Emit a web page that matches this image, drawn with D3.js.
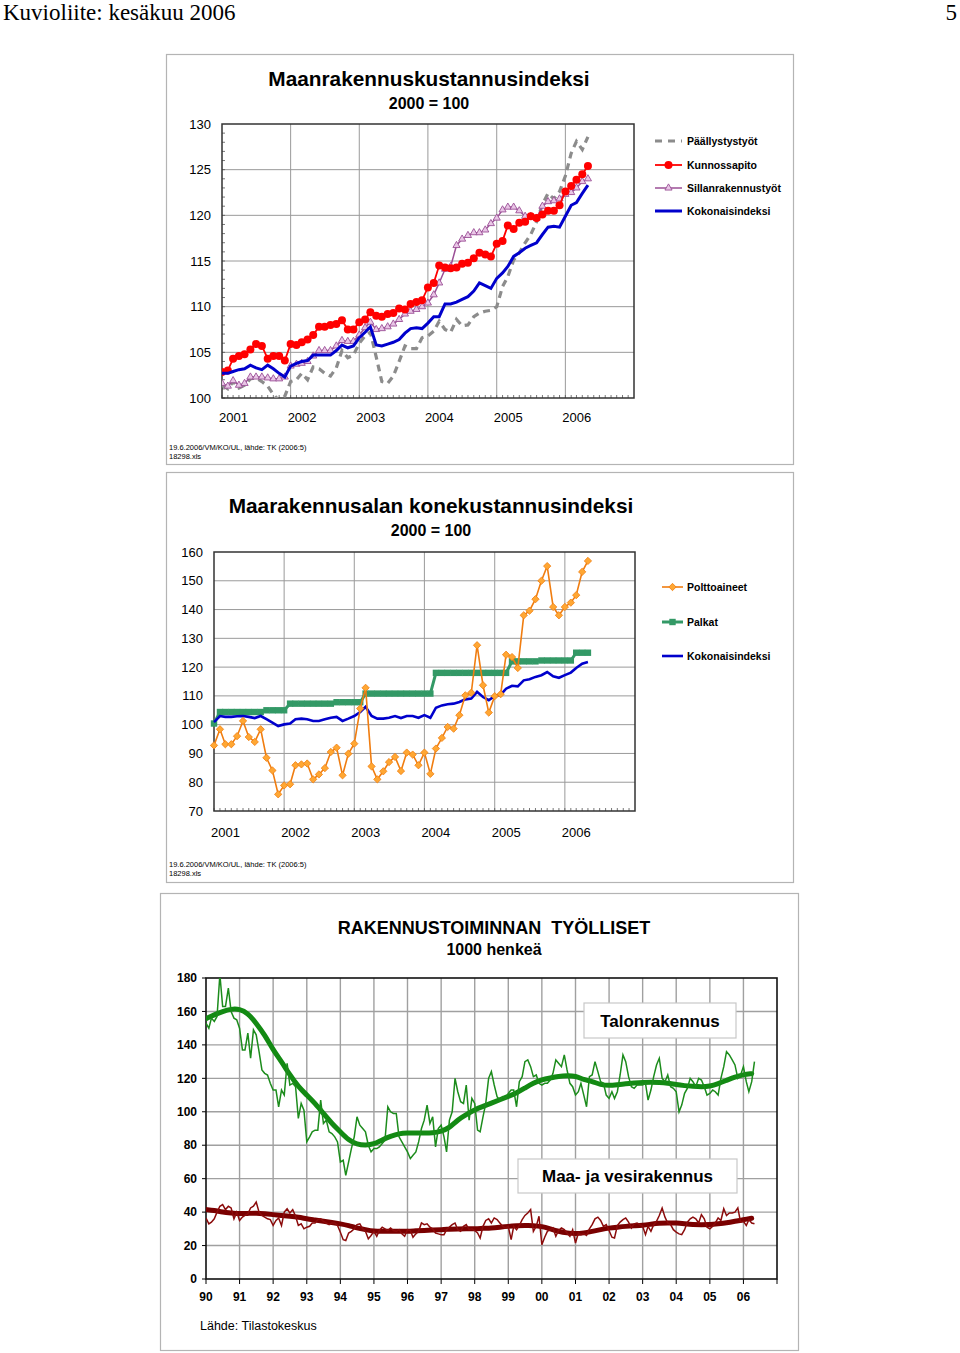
<!DOCTYPE html>
<html>
<head>
<meta charset="utf-8">
<script src="https://cdn.jsdelivr.net/npm/d3@7"></script>
<style>
body { margin: 0; background: #fff; }
svg text { font-family: Arial, "Liberation Sans", Helvetica, sans-serif; fill: #000; }
</style>
</head>
<body>
<div id="page"></div>
<script>
// page size
const width = 960; const height = 1353;

// ---- data: Maanrakennuskustannusindeksi, monthly 2001:1 - 2006:5 ----
const top_series = ['Päällystystyöt', 'Kunnossapito', 'Sillanrakennustyöt', 'Kokonaisindeksi'];
const top_paallystys = [101.4,101.0,101.8,101.1,101.4,102.1,102.2,101.8,101.3,100.4,99.7,100.2,
  101.8,102.0,102.7,102.0,103.4,103.2,102.7,102.4,103.3,105.2,104.4,104.7,
  106.0,106.8,107.2,104.5,101.8,101.6,102.4,104.0,105.7,105.4,105.4,106.6,
  106.8,107.3,108.4,107.5,107.2,108.6,107.9,108.0,108.9,109.3,109.5,109.6,
  110.0,112.2,113.3,115.1,115.9,117.0,117.9,119.3,121.2,122.4,121.8,122.6,
  124.3,126.8,128.1,127.2,128.6];
const top_kunnossapito = [102.85,103.0,104.3,104.6,104.8,105.3,105.9,105.7,104.3,104.6,104.6,104.1,
  105.9,105.8,106.1,106.4,106.9,107.8,107.8,108.0,108.1,108.5,107.5,107.5,
  108.3,108.6,109.4,109.0,108.9,109.2,109.3,109.8,109.7,110.3,110.5,110.7,
  112.1,112.6,114.5,114.3,114.2,114.3,114.7,114.8,115.3,115.9,115.7,115.5,
  116.9,117.2,118.9,118.5,119.2,119.3,119.9,119.7,120.1,120.5,120.5,121.1,
  122.6,123.2,123.9,124.5,125.4];
const top_silta = [101.6,101.3,101.9,101.4,101.6,102.3,102.3,102.3,102.2,102.1,102.1,102.3,
  103.5,103.7,103.8,104.0,104.6,105.2,105.2,105.2,105.7,106.3,106.2,106.2,
  106.9,107.7,108.3,107.5,107.6,107.8,108.1,108.6,109.2,109.5,109.7,110.0,
  110.4,111.3,112.6,114.1,114.4,116.7,117.4,117.8,118.1,118.1,118.4,119.1,
  119.7,120.6,120.9,120.9,120.5,119.9,119.9,119.7,121.0,121.5,121.6,121.8,
  122.3,122.5,123.0,123.7,124.0];
const top_koko = [102.7,102.7,102.9,103.1,103.2,103.6,103.3,103.1,103.6,103.2,102.7,102.3,
  103.5,103.8,104.0,104.1,104.7,104.7,104.7,104.7,105.2,105.8,105.5,105.7,
  106.6,107.2,107.8,105.8,105.7,105.9,106.1,106.4,107.1,107.6,107.7,107.6,
  108.2,108.9,108.9,110.3,110.3,110.5,110.8,111.1,111.7,112.6,112.3,112.0,
  113.1,113.7,114.4,115.5,115.9,116.4,116.7,117.0,117.9,118.7,118.8,118.7,
  119.9,121.1,121.4,122.4,123.3];
const top_yticks = [100, 105, 110, 115, 120, 125, 130];
const years_0106 = [2001, 2002, 2003, 2004, 2005, 2006];

// ---- data: Maarakennusalan konekustannusindeksi ----
const mid_series = ['Polttoaineet', 'Palkat', 'Kokonaisindeksi'];
const mid_poltto = [92.8,98.4,93.2,93.2,96.0,101.3,95.7,94.0,98.4,88.5,84.1,75.8,
  78.9,79.3,85.9,86.2,86.5,81.0,82.7,84.9,90.5,92.0,82.4,89.9,
  93.4,105.6,112.8,85.5,81.0,83.8,87.0,88.8,83.9,90.3,89.6,85.9,
  90.3,82.9,91.7,95.4,99.2,98.6,103.3,110.2,111.1,127.6,113.7,104.2,
  109.9,110.6,124.3,123.5,119.7,138.0,139.6,143.6,150.0,155.1,140.9,138.0,
  140.9,142.4,145.0,153.1,156.9];
const mid_palkat = [100.4,104.4,104.4,104.4,104.4,104.4,104.4,104.4,104.4,105.0,105.0,105.0,
  105.0,107.3,107.3,107.3,107.3,107.3,107.3,107.3,107.3,107.8,107.8,107.8,
  107.8,107.8,110.8,110.8,110.8,110.8,110.8,110.8,110.8,110.8,110.8,110.8,
  110.8,110.8,118.0,118.0,118.0,118.0,118.0,118.0,118.0,118.0,118.0,118.0,
  118.0,118.0,118.0,122.0,122.0,122.0,122.0,122.0,122.3,122.3,122.3,122.3,
  122.3,122.3,125.0,125.0,125.0];
const mid_koko = [100.9,103.0,102.7,102.7,102.9,103.0,102.7,102.3,103.0,101.9,100.7,99.5,
  100.1,100.4,101.9,102.1,101.9,101.3,101.3,101.9,102.4,102.7,101.3,102.1,
  103.0,104.4,106.2,103.0,102.1,102.1,102.4,103.0,102.3,103.0,103.0,102.4,
  103.3,102.4,105.9,106.7,107.1,107.3,107.9,108.8,109.1,111.4,109.6,108.5,
  110.0,110.4,112.5,113.5,113.3,115.4,115.8,116.6,117.2,118.3,116.8,116.3,
  117.2,118.1,119.7,121.2,121.8];
const mid_yticks = [70, 80, 90, 100, 110, 120, 130, 140, 150, 160];

// ---- data: Rakennustoiminnan työlliset, 1000 henkeä, monthly 1990:1 - 2006:5 ----
const talo_raw = [153,150,156,154,157,182,163,163,174,160,156,155,
  150,137,137,147,132,149,146,136,125,123,122,117,
  113,113,103,113,110,129,116,117,115,96,105,101,
  82,85,88,89,89,107,93,95,88,87,85,82,
  70,71,62,70,78,85,97,92,90,88,80,76,
  78,78,79,81,83,103,100,99,99,85,82,79,
  76,72,74,76,82,90,95,104,93,97,79,90,
  92,85,76,95,100,120,112,106,105,116,95,108,
  105,89,88,97,105,120,124,116,109,107,109,108,
  111,113,113,103,118,121,130,131,127,121,122,117,
  116,117,117,119,123,131,129,127,134,125,117,115,
  110,112,117,110,103,121,122,130,124,118,117,110,
  108,112,108,112,122,134,130,121,115,114,116,116,
  116,117,107,113,121,128,132,120,118,122,115,114,
  112,100,104,111,114,120,118,115,120,119,115,110,
  111,113,112,110,120,127,136,134,131,128,120,122,
  127,118,112,118,130];
const maa_raw = [36.5,33,34,36,40,43.5,44.5,41.5,43.5,42.5,36,40,
  35,37,38,39,42.5,43.5,46,40,38,37,36,35.5,
  32,35,36.5,32,40,42,39.5,41.5,37.5,32,33,30,
  31,31.5,33.5,33.5,35.5,36,34.5,33.5,32.5,33.5,33.5,32,
  28,23.5,23,27.5,28.5,30,32.5,33,30,28.5,24,26,
  28.5,25.5,29,31,30,29,30.5,29,28.5,29.5,27,25.5,
  29.5,29,25,27,28.5,33.5,32.5,33,31,30,27.5,27,
  26.5,26.5,29.5,31,32.5,33.5,29.5,28.5,31.5,32.5,29.5,30,
  29,27.5,24.5,31.5,35,36,33.5,36.5,35.5,33.5,31.5,30.5,
  31.5,23.5,31.5,29.5,32,35.5,38,39.5,41.5,28.5,31.5,37.5,
  20.5,25,28.5,29.5,30.5,25.5,29,30.5,29.5,27.5,25.5,29.5,
  21.5,27.5,26.5,27,26,30,32.5,36,37,35,31.5,32.5,
  29,25,24.5,32,34,35.5,36.5,34,30.5,33,33.5,32.5,
  31.5,26.5,31.5,28.5,32.5,34.5,38,42.5,37,33.5,32.5,29.5,
  28,27,26.5,29.5,34,36,37,36,33.5,38.5,36,31,
  30,31.5,33.5,36.5,35,42,38,39.5,39.5,40,42.5,34,
  34.5,32,35.5,33.5,33];
// trends, every 3 months (1990:1 ... 2006:4)
const talo_trend = [155.7,158,160,161.5,161.5,159,153,146,137,130,122,115,
  110,105,99,93,88,83,80.5,80,80.5,83.3,85.3,87,
  87.3,87.3,87.3,87.3,88.3,90.3,95.3,98.3,101.3,103.2,105.2,107.2,
  109.2,111.2,114.2,117.2,119.2,120.2,121.2,121.6,121.4,119.2,118.2,116.2,
  115.6,116.2,116.8,117.2,117.6,117.6,117.6,117.2,116.2,115.6,115.2,114.8,
  115.2,116.8,118.8,120.8,122.2,122.8];
const maa_trend = [41.5,41,40,39.5,39,39.2,39.5,39,38.5,38,37.5,37,
  36,35.3,34.5,33.8,33,32,30.5,29.5,28.5,28.5,28.5,28.5,
  28.5,28.8,29,29.3,29.5,29.8,30,30,30,30.3,30.5,31,
  31.5,31.8,32,32,31.5,30,28.5,27.5,27,27.5,28.5,29.5,
  30.5,31,31.5,31.8,32,32.8,33.5,33.5,33.5,33,32.5,32.5,
  32.5,33,33.5,34.5,35.5,36.3];
const bot_yticks = [0, 20, 40, 60, 80, 100, 120, 140, 160, 180];
const years_9006 = d3.range(1990, 2007);

const monthsFrom = (start, n, step) => d3.range(n).map(i => d3.timeMonth.offset(start, i * (step || 1)));
const pairs = (dates, vals) => vals.map((v, i) => ({date: dates[i], value: v}));

let svg = d3.select('#page').append('svg')
    .attr('width', width)
    .attr('height', height);

// page header
svg.append('text').attr('x', 3).attr('y', 20)
    .style('font-family', '"Liberation Serif", "Times New Roman", serif')
    .attr('font-size', 23).text('Kuvioliite: kesäkuu 2006');
svg.append('text').attr('x', 957).attr('y', 20).attr('text-anchor', 'end')
    .style('font-family', '"Liberation Serif", "Times New Roman", serif')
    .attr('font-size', 23).text('5');

function panelBox(x0, y0, x1, y1) {
    svg.append('rect')
        .attr('x', x0 + 0.5).attr('y', y0 + 0.5)
        .attr('width', x1 - x0).attr('height', y1 - y0)
        .attr('fill', 'none').attr('stroke', '#b4b4b4').attr('stroke-width', 1.2);
}
panelBox(166, 54, 793, 464);
panelBox(166, 472, 793, 882);
panelBox(160, 893, 798, 1350);

function footnote(y) {
    svg.append('text').attr('x', 169).attr('y', y).attr('font-size', 7.5)
        .text('19.6.2006/VM/KO/UL, lähde: TK (2006:5)');
    svg.append('text').attr('x', 169).attr('y', y + 9).attr('font-size', 7.5)
        .text('18298.xls');
}

function clip(id, x0, y0, x1, y1) {
    svg.append('clipPath').attr('id', id).append('rect')
        .attr('x', x0).attr('y', y0).attr('width', x1 - x0).attr('height', y1 - y0);
}

// ================= chart 1 =================
{
    const L = 222, R = 634, T = 124, B = 398;
    const x = d3.scaleTime().domain([new Date(2001, 0, 1), new Date(2007, 0, 1)]).range([L, R]);
    const y = d3.scaleLinear().domain([100, 130]).range([B, T]);
    const dates = monthsFrom(new Date(2001, 0, 1), 65);
    const g = svg.append('g');

    g.append('text').attr('x', 429).attr('y', 86).attr('text-anchor', 'middle')
        .attr('font-size', 20.8).attr('font-weight', 'bold').text('Maanrakennuskustannusindeksi');
    g.append('text').attr('x', 429).attr('y', 109).attr('text-anchor', 'middle')
        .attr('font-size', 16).attr('font-weight', 'bold').text('2000 = 100');

    // grid
    g.selectAll('.hg').data(top_yticks.slice(1, -1)).join('line')
        .attr('x1', L).attr('x2', R).attr('y1', d => y(d)).attr('y2', d => y(d))
        .attr('stroke', '#9a9a9a').attr('stroke-width', 1);
    g.selectAll('.vg').data(years_0106.slice(1)).join('line')
        .attr('x1', d => x(new Date(d, 0, 1))).attr('x2', d => x(new Date(d, 0, 1)))
        .attr('y1', T).attr('y2', B)
        .attr('stroke', '#9a9a9a').attr('stroke-width', 1);
    // minor ticks
    g.selectAll('.my').data(d3.range(100, 130)).join('line')
        .attr('x1', L).attr('x2', L + 3).attr('y1', d => y(d)).attr('y2', d => y(d))
        .attr('stroke', '#555').attr('stroke-width', 0.8);
    g.selectAll('.mx').data(d3.timeMonth.range(new Date(2001, 0, 1), new Date(2007, 0, 1))).join('line')
        .attr('x1', d => x(d)).attr('x2', d => x(d)).attr('y1', B).attr('y2', B - 3)
        .attr('stroke', '#555').attr('stroke-width', 0.8);
    g.append('rect').attr('x', L).attr('y', T).attr('width', R - L).attr('height', B - T)
        .attr('fill', 'none').attr('stroke', '#333').attr('stroke-width', 1.5);

    g.selectAll('.yl').data(top_yticks).join('text')
        .attr('x', 211).attr('y', d => y(d)).attr('dy', '0.35em').attr('text-anchor', 'end')
        .attr('font-size', 13).text(d => d);
    g.selectAll('.xl').data(years_0106).join('text')
        .attr('x', d => x(new Date(d, 0, 1)) - 3).attr('y', 417).attr('dy', '0.35em')
        .attr('font-size', 13).text(d => d);

    clip('clip1', L, T, R, B);
    const line = d3.line().x(d => x(d.date)).y(d => y(d.value));
    const pg = g.append('g').attr('clip-path', 'url(#clip1)');

    pg.append('path').datum(pairs(dates, top_paallystys))
        .attr('fill', 'none').attr('stroke', '#8c8c8c').attr('stroke-width', 3.2)
        .attr('stroke-dasharray', '7,5').attr('d', line);
    pg.append('path').datum(pairs(dates, top_silta))
        .attr('fill', 'none').attr('stroke', '#9b4f96').attr('stroke-width', 1.5).attr('d', line);
    pg.selectAll('.tri').data(pairs(dates, top_silta)).join('path')
        .attr('transform', d => `translate(${x(d.date)},${y(d.value)})`)
        .attr('d', d3.symbol(d3.symbolTriangle, 22))
        .attr('fill', '#e9c6e6').attr('stroke', '#9b4f96').attr('stroke-width', 0.9);
    pg.append('path').datum(pairs(dates, top_kunnossapito))
        .attr('fill', 'none').attr('stroke', '#ff0000').attr('stroke-width', 1.8).attr('d', line);
    pg.selectAll('.dot').data(pairs(dates, top_kunnossapito)).join('circle')
        .attr('cx', d => x(d.date)).attr('cy', d => y(d.value)).attr('r', 4)
        .attr('fill', '#ff0000');
    pg.append('path').datum(pairs(dates, top_koko))
        .attr('fill', 'none').attr('stroke', '#0000cc').attr('stroke-width', 3).attr('d', line);

    // legend
    const ly = [141, 165, 188, 211];
    const lg = g.append('g');
    lg.append('line').attr('x1', 655).attr('x2', 682).attr('y1', ly[0]).attr('y2', ly[0])
        .attr('stroke', '#8c8c8c').attr('stroke-width', 3).attr('stroke-dasharray', '7,6');
    lg.append('line').attr('x1', 655).attr('x2', 682).attr('y1', ly[1]).attr('y2', ly[1])
        .attr('stroke', '#ff0000').attr('stroke-width', 1.8);
    lg.append('circle').attr('cx', 668.5).attr('cy', ly[1]).attr('r', 4).attr('fill', '#ff0000');
    lg.append('line').attr('x1', 655).attr('x2', 682).attr('y1', ly[2]).attr('y2', ly[2])
        .attr('stroke', '#9b4f96').attr('stroke-width', 1.5);
    lg.append('path').attr('transform', `translate(668.5,${ly[2]})`)
        .attr('d', d3.symbol(d3.symbolTriangle, 22))
        .attr('fill', '#e9c6e6').attr('stroke', '#9b4f96').attr('stroke-width', 0.9);
    lg.append('line').attr('x1', 655).attr('x2', 682).attr('y1', ly[3]).attr('y2', ly[3])
        .attr('stroke', '#0000cc').attr('stroke-width', 3);
    lg.selectAll('text').data(top_series).join('text')
        .attr('x', 687).attr('y', (d, i) => ly[i]).attr('dy', '0.35em')
        .attr('font-size', 10.5).attr('font-weight', 'bold').text(d => d);

    footnote(450);
}

// ================= chart 2 =================
{
    const L = 214, R = 635, T = 552, B = 811;
    const x = d3.scaleTime().domain([new Date(2001, 0, 1), new Date(2007, 0, 1)]).range([L, R]);
    const y = d3.scaleLinear().domain([70, 160]).range([B, T]);
    const dates = monthsFrom(new Date(2001, 0, 1), 65);
    const g = svg.append('g');

    g.append('text').attr('x', 431).attr('y', 513).attr('text-anchor', 'middle')
        .attr('font-size', 20.8).attr('font-weight', 'bold').text('Maarakennusalan konekustannusindeksi');
    g.append('text').attr('x', 431).attr('y', 536).attr('text-anchor', 'middle')
        .attr('font-size', 16).attr('font-weight', 'bold').text('2000 = 100');

    g.selectAll('.hg').data(mid_yticks.slice(1, -1)).join('line')
        .attr('x1', L).attr('x2', R).attr('y1', d => y(d)).attr('y2', d => y(d))
        .attr('stroke', '#9a9a9a').attr('stroke-width', 1);
    g.selectAll('.vg').data(years_0106.slice(1)).join('line')
        .attr('x1', d => x(new Date(d, 0, 1))).attr('x2', d => x(new Date(d, 0, 1)))
        .attr('y1', T).attr('y2', B)
        .attr('stroke', '#9a9a9a').attr('stroke-width', 1);
    g.selectAll('.mx').data(d3.timeMonth.range(new Date(2001, 0, 1), new Date(2007, 0, 1))).join('line')
        .attr('x1', d => x(d)).attr('x2', d => x(d)).attr('y1', B).attr('y2', B - 3)
        .attr('stroke', '#555').attr('stroke-width', 0.8);
    g.append('rect').attr('x', L).attr('y', T).attr('width', R - L).attr('height', B - T)
        .attr('fill', 'none').attr('stroke', '#333').attr('stroke-width', 1.5);

    g.selectAll('.yl').data(mid_yticks).join('text')
        .attr('x', 203).attr('y', d => y(d)).attr('dy', '0.35em').attr('text-anchor', 'end')
        .attr('font-size', 13).text(d => d);
    g.selectAll('.xl').data(years_0106).join('text')
        .attr('x', d => x(new Date(d, 0, 1)) - 3).attr('y', 832).attr('dy', '0.35em')
        .attr('font-size', 13).text(d => d);

    const line = d3.line().x(d => x(d.date)).y(d => y(d.value));

    g.append('path').datum(pairs(dates, mid_palkat))
        .attr('fill', 'none').attr('stroke', '#339966').attr('stroke-width', 3).attr('d', line);
    g.selectAll('.sq').data(pairs(dates, mid_palkat)).join('rect')
        .attr('x', d => x(d.date) - 3.2).attr('y', d => y(d.value) - 3.2)
        .attr('width', 6.4).attr('height', 6.4).attr('fill', '#339966');
    g.append('path').datum(pairs(dates, mid_koko))
        .attr('fill', 'none').attr('stroke', '#0000cc').attr('stroke-width', 2.6).attr('d', line);
    g.append('path').datum(pairs(dates, mid_poltto))
        .attr('fill', 'none').attr('stroke', '#f07d10').attr('stroke-width', 1.6).attr('d', line);
    g.selectAll('.dia').data(pairs(dates, mid_poltto)).join('path')
        .attr('transform', d => `translate(${x(d.date)},${y(d.value)})`)
        .attr('d', d3.symbol(d3.symbolDiamond2, 34))
        .attr('fill', '#ffa733').attr('stroke', '#f07d10').attr('stroke-width', 0.8);

    const ly = [587, 622, 656];
    const lg = g.append('g');
    lg.append('line').attr('x1', 662).attr('x2', 683).attr('y1', ly[0]).attr('y2', ly[0])
        .attr('stroke', '#f07d10').attr('stroke-width', 1.6);
    lg.append('path').attr('transform', `translate(672.5,${ly[0]})`)
        .attr('d', d3.symbol(d3.symbolDiamond2, 34))
        .attr('fill', '#ffa733').attr('stroke', '#f07d10').attr('stroke-width', 0.8);
    lg.append('line').attr('x1', 662).attr('x2', 683).attr('y1', ly[1]).attr('y2', ly[1])
        .attr('stroke', '#339966').attr('stroke-width', 3);
    lg.append('rect').attr('x', 669.3).attr('y', ly[1] - 3.2).attr('width', 6.4).attr('height', 6.4)
        .attr('fill', '#339966');
    lg.append('line').attr('x1', 662).attr('x2', 683).attr('y1', ly[2]).attr('y2', ly[2])
        .attr('stroke', '#0000cc').attr('stroke-width', 2.6);
    lg.selectAll('text').data(mid_series).join('text')
        .attr('x', 687).attr('y', (d, i) => ly[i]).attr('dy', '0.35em')
        .attr('font-size', 10.5).attr('font-weight', 'bold').text(d => d);

    footnote(867);
}

// ================= chart 3 =================
{
    const L = 206, R = 777, T = 978, B = 1279;
    const x = d3.scaleTime().domain([new Date(1990, 0, 1), new Date(2007, 0, 1)]).range([L, R]);
    const y = d3.scaleLinear().domain([0, 180]).range([B, T]);
    const start = new Date(1990, 0, 1);
    const g = svg.append('g');

    g.append('text').attr('x', 494).attr('y', 934).attr('text-anchor', 'middle')
        .attr('font-size', 18).attr('font-weight', 'bold')
        .attr('xml:space', 'preserve').style('white-space', 'pre')
        .text('RAKENNUSTOIMINNAN  TYÖLLISET');
    g.append('text').attr('x', 494).attr('y', 955).attr('text-anchor', 'middle')
        .attr('font-size', 16).attr('font-weight', 'bold').text('1000 henkeä');

    g.selectAll('.hg').data(bot_yticks.slice(1, -1)).join('line')
        .attr('x1', L).attr('x2', R).attr('y1', d => y(d)).attr('y2', d => y(d))
        .attr('stroke', '#a0a0a0').attr('stroke-width', 1.4);
    g.selectAll('.vg').data(years_9006.slice(1)).join('line')
        .attr('x1', d => x(new Date(d, 0, 1))).attr('x2', d => x(new Date(d, 0, 1)))
        .attr('y1', T).attr('y2', B)
        .attr('stroke', '#a0a0a0').attr('stroke-width', 1.4);
    g.selectAll('.tx').data(years_9006.concat([2007])).join('line')
        .attr('x1', d => x(new Date(d, 0, 1))).attr('x2', d => x(new Date(d, 0, 1)))
        .attr('y1', B).attr('y2', B + 5).attr('stroke', '#000').attr('stroke-width', 1);
    g.selectAll('.ty').data(bot_yticks).join('line')
        .attr('x1', L - 4).attr('x2', L).attr('y1', d => y(d)).attr('y2', d => y(d))
        .attr('stroke', '#000').attr('stroke-width', 1);
    g.append('rect').attr('x', L).attr('y', T).attr('width', R - L).attr('height', B - T)
        .attr('fill', 'none').attr('stroke', '#111').attr('stroke-width', 1.6);

    g.selectAll('.yl').data(bot_yticks).join('text')
        .attr('x', 197).attr('y', d => y(d)).attr('dy', '0.35em').attr('text-anchor', 'end')
        .attr('font-size', 12).attr('font-weight', 'bold').text(d => d);
    g.selectAll('.xl').data(years_9006).join('text')
        .attr('x', d => x(new Date(d, 0, 1))).attr('y', 1297).attr('dy', '0.35em')
        .attr('text-anchor', 'middle').attr('font-size', 12).attr('font-weight', 'bold')
        .text(d => String(d).slice(2));

    clip('clip3', L, T, R, B);
    const pg = g.append('g').attr('clip-path', 'url(#clip3)');
    const line = d3.line().x(d => x(d.date)).y(d => y(d.value));
    const smooth = d3.line().x(d => x(d.date)).y(d => y(d.value)).curve(d3.curveBasis);

    pg.append('path').datum(pairs(monthsFrom(start, talo_trend.length, 3), talo_trend))
        .attr('fill', 'none').attr('stroke', '#138a13').attr('stroke-width', 5)
        .attr('stroke-linecap', 'round').attr('d', smooth);
    pg.append('path').datum(pairs(monthsFrom(start, talo_raw.length), talo_raw))
        .attr('fill', 'none').attr('stroke', '#1c8c1c').attr('stroke-width', 1.5).attr('d', line);
    pg.append('path').datum(pairs(monthsFrom(start, maa_trend.length, 3), maa_trend))
        .attr('fill', 'none').attr('stroke', '#7a0000').attr('stroke-width', 5)
        .attr('stroke-linecap', 'round').attr('d', smooth);
    pg.append('path').datum(pairs(monthsFrom(start, maa_raw.length), maa_raw))
        .attr('fill', 'none').attr('stroke', '#8b0b0b').attr('stroke-width', 1.5).attr('d', line);

    // series labels
    const boxes = [
        {text: 'Talonrakennus', x0: 584, y0: 1003, x1: 736, y1: 1038},
        {text: 'Maa- ja vesirakennus', x0: 518, y0: 1159, x1: 737, y1: 1193}
    ];
    boxes.forEach(b => {
        g.append('rect').attr('x', b.x0).attr('y', b.y0)
            .attr('width', b.x1 - b.x0).attr('height', b.y1 - b.y0)
            .attr('fill', '#fff').attr('stroke', '#c8c8c8').attr('stroke-width', 1.2);
        g.append('text').attr('x', (b.x0 + b.x1) / 2).attr('y', (b.y0 + b.y1) / 2)
            .attr('dy', '0.36em').attr('text-anchor', 'middle')
            .attr('font-size', 17).attr('font-weight', 'bold').text(b.text);
    });

    g.append('text').attr('x', 200).attr('y', 1330).attr('font-size', 12.5)
        .text('Lähde: Tilastokeskus');
}
</script>
</body>
</html>
